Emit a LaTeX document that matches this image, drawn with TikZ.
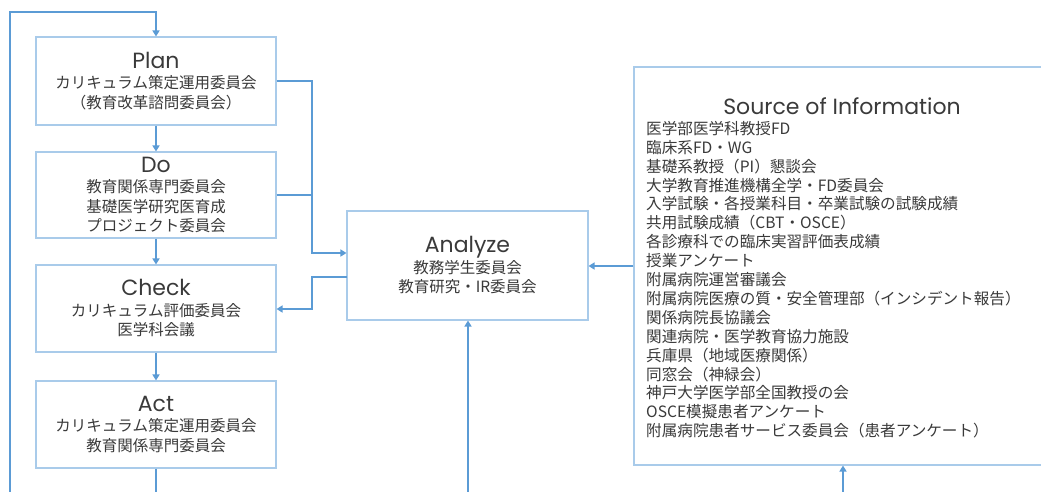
\documentclass[tikz,border=0pt]{standalone}
\usepackage{fontspec}
\setmainfont{Noto Sans CJK JP}
\newfontfamily\ttlfont{Poppins}
\usetikzlibrary{arrows.meta,calc}
\definecolor{lineblue}{HTML}{5B9BD5}
\definecolor{boxblue}{HTML}{A9CBEA}
\definecolor{txt}{HTML}{3A3A3A}
\tikzset{
  box/.style={draw=boxblue, line width=1.1pt, fill=white, inner sep=0pt, align=center, text=txt,
    font=\fontsize{15.5}{19.5}\selectfont},
  conn/.style={draw=lineblue, line width=1.8pt},
  arr/.style={conn, -{Triangle[width=7pt,length=6pt]}},
}
\newcommand{\ttl}[1]{{\ttlfont\fontsize{22}{26}\selectfont #1}\\[1pt]}
\begin{document}
\begin{tikzpicture}[x=1pt,y=-1pt]
\useasboundingbox (0,0) rectangle (1041,491);
\clip (0,0) rectangle (1041,491);
\fill[white] (0,0) rectangle (1041,491);
% boxes
\node[box, minimum width=240pt, minimum height=88pt] (plan) at (156,81)
  {\ttl{Plan}カリキュラム策定運用委員会\\（教育改革諮問委員会）};
\node[box, minimum width=240pt, minimum height=86pt] (do) at (156,195)
  {\ttl{Do}教育関係専門委員会\\基礎医学研究医育成\\プロジェクト委員会};
\node[box, minimum width=240pt, minimum height=87pt] (check) at (156,308.5)
  {\ttl{Check}カリキュラム評価委員会\\医学科会議};
\node[box, minimum width=240pt, minimum height=87pt] (act) at (156,424.5)
  {\ttl{Act}カリキュラム策定運用委員会\\教育関係専門委員会};
\node[box, minimum width=241pt, minimum height=109pt] (analyze) at (467.5,265.5)
  {\ttl{Analyze}教務学生委員会\\教育研究・IR委員会};
\node[box, minimum width=411pt, minimum height=398pt] (src) at (839.5,266) {};
\node[text=txt, font=\ttlfont\fontsize{22}{26}\selectfont, inner sep=0pt] (srcttl) at (842,106) {Source of Information};
\node[text=txt, font=\fontsize{15.6}{18.9}\selectfont, align=left, anchor=north west, inner sep=0pt] (srclist) at (646,121)
  {医学部医学科教授FD\\
   臨床系FD・WG\\
   基礎系教授（PI）懇談会\\
   大学教育推進機構全学・FD委員会\\
   入学試験・各授業科目・卒業試験の試験成績\\
   共用試験成績（CBT・OSCE）\\
   各診療科での臨床実習評価表成績\\
   授業アンケート\\
   附属病院運営審議会\\
   附属病院医療の質・安全管理部（インシデント報告）\\
   関係病院長協議会\\
   関連病院・医学教育協力施設\\
   兵庫県（地域医療関係）\\
   同窓会（神緑会）\\
   神戸大学医学部全国教授の会\\
   OSCE模擬患者アンケート\\
   附属病院患者サービス委員会（患者アンケート）};
% coordinates
\coordinate (loopB) at (10,500);
\coordinate (loopT) at (10,12);
\coordinate (actB) at (156,500);
\coordinate (j1) at (312,253);
\coordinate (j2) at (312,309);
\coordinate (aw) at (347,277);
\coordinate (b1) at (468,500);
\coordinate (b2) at (843,500);
% connectors
\draw[arr] (plan) -- (do);
\draw[arr] (do) -- (check);
\draw[arr] (check) -- (act);
\draw[conn] (act) -- (actB);
\draw[arr] (loopB) -- (loopT) -| (plan.north);
\draw[arr] (plan.east) -| (j1) -- (j1 -| analyze.west);
\draw[conn] (do.east) -- (do.east -| j1);
\draw[arr] (aw) -| (j2) -- (j2 -| check.east);
\draw[arr] (src.west) -- (src.west -| analyze.east);
\draw[arr] (b1) -- (b1 |- analyze.south);
\draw[arr] (b2) -- (b2 |- src.south);
\end{tikzpicture}
\end{document}
